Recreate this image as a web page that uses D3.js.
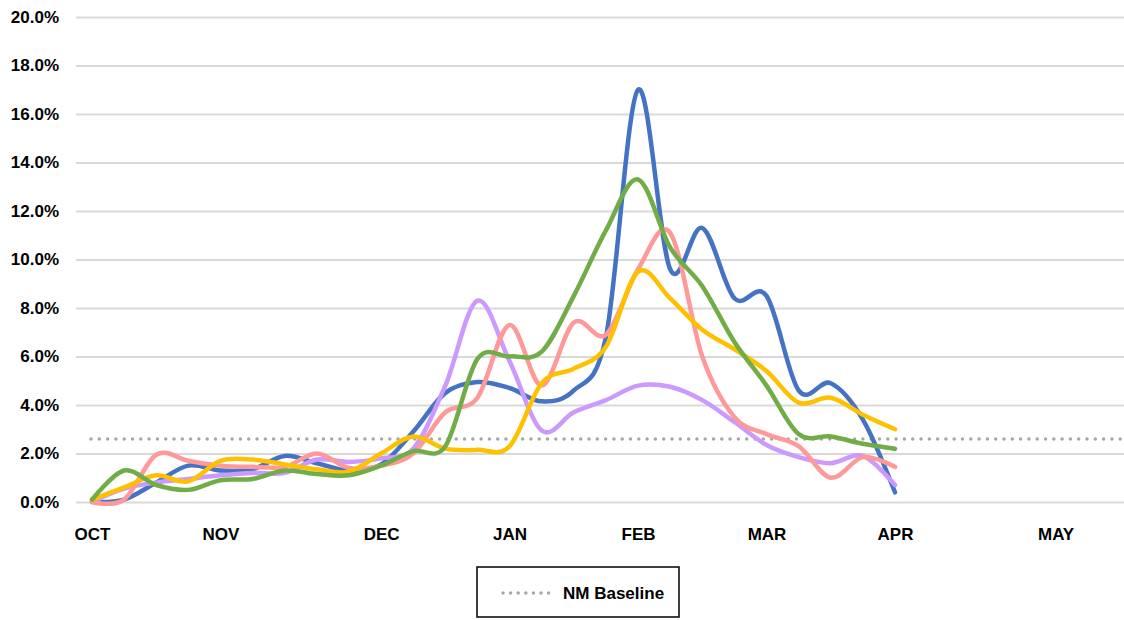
<!DOCTYPE html>
<html>
<head>
<meta charset="utf-8">
<script src="https://cdn.jsdelivr.net/npm/d3@7"></script>
<style>
  body { margin: 0; background: #fff; }
  #svg-1 { display: block; }
  .axis text { font-family: "Liberation Sans Narrow", "Arial Narrow", "Liberation Sans", sans-serif; font-weight: bold; font-size: 17px; fill: #000; }
  .grid line { stroke: #d9d9d9; stroke-width: 2; }
  .series { fill: none; stroke-width: 4.5; stroke-linecap: round; stroke-linejoin: round; }
</style>
</head>
<body>
<svg id="svg-1" width="1124" height="620"></svg>
<script>
// weekly percentages, week 0 = first week of OCT
const monthLabels = ["OCT", "NOV", "DEC", "JAN", "FEB", "MAR", "APR", "MAY"];
const monthWeeks = [0, 4, 9, 13, 17, 21, 25, 30];

const blueValues   = [0.0, 0.1, 0.8, 1.5, 1.3, 1.35, 1.9, 1.6, 1.3, 1.55, 2.9, 4.5, 4.95, 4.7, 4.15, 4.6, 6.8, 17.0, 9.6, 11.3, 8.4, 8.5, 4.6, 4.9, 3.4, 0.4];
const purpleValues = [0.0, 0.55, 0.8, 0.95, 1.1, 1.2, 1.2, 1.75, 1.65, 1.8, 2.2, 4.8, 8.3, 5.8, 2.95, 3.7, 4.2, 4.8, 4.75, 4.2, 3.3, 2.35, 1.85, 1.6, 1.9, 0.7];
const pinkValues   = [0.0, 0.1, 1.95, 1.7, 1.5, 1.45, 1.45, 2.0, 1.4, 1.5, 2.0, 3.7, 4.3, 7.3, 4.8, 7.4, 6.9, 9.6, 11.1, 6.0, 3.5, 2.8, 2.3, 1.0, 1.85, 1.45];
const yellowValues = [0.1, 0.6, 1.1, 0.85, 1.7, 1.75, 1.55, 1.35, 1.25, 2.0, 2.7, 2.2, 2.15, 2.3, 4.9, 5.5, 6.4, 9.5, 8.4, 7.1, 6.3, 5.4, 4.1, 4.3, 3.6, 3.0];
const greenValues  = [0.1, 1.3, 0.7, 0.5, 0.9, 0.95, 1.3, 1.15, 1.1, 1.5, 2.1, 2.3, 5.9, 6.0, 6.2, 8.5, 11.2, 13.3, 10.5, 8.9, 6.6, 4.8, 2.8, 2.7, 2.4, 2.2];
const baselineValue = 2.6;
const legendLabel = "NM Baseline";

const series = [
  { name: "blue",   color: "#4472c4", values: blueValues },
  { name: "purple", color: "#cc99ff", values: purpleValues },
  { name: "pink",   color: "#ff9999", values: pinkValues },
  { name: "yellow", color: "#ffc000", values: yellowValues },
  { name: "green",  color: "#70ad47", values: greenValues }
];

const chartModule = (function() {
  function draw() {
    const svg = d3.select("#svg-1");
    const plotLeft = 76, plotRight = 1124;

    const x = d3.scaleLinear().domain([0, 25]).range([92, 895]);
    const y = d3.scaleLinear().domain([0, 20]).range([502, 17]);

    // y axis + gridlines
    svg.append("g")
      .attr("class", "axis grid")
      .attr("transform", "translate(" + plotLeft + ",0)")
      .call(d3.axisLeft(y)
        .tickValues(d3.range(0, 21, 2))
        .tickSize(-(plotRight - plotLeft))
        .tickPadding(17)
        .tickFormat(d => d.toFixed(1) + "%"))
      .call(g => g.select(".domain").remove());

    // x axis (month labels)
    svg.append("g")
      .attr("class", "axis")
      .attr("transform", "translate(0," + y(0) + ")")
      .call(d3.axisBottom(x)
        .tickValues(monthWeeks)
        .tickSize(0)
        .tickPadding(26)
        .tickFormat((d, i) => monthLabels[i]))
      .call(g => g.select(".domain").remove());

    // baseline
    svg.append("line")
      .attr("x1", x(0) - 1)
      .attr("x2", plotRight)
      .attr("y1", y(baselineValue))
      .attr("y2", y(baselineValue))
      .attr("stroke", "#a6a6a6")
      .attr("stroke-width", 3.5)
      .attr("stroke-linecap", "round")
      .attr("stroke-dasharray", "0,8.3");

    const line = d3.line()
      .x((d, i) => x(i))
      .y(d => y(d))
      .curve(d3.curveCardinal.tension(0));

    svg.selectAll(".series")
      .data(series)
      .enter()
      .append("path")
      .attr("class", "series")
      .attr("stroke", d => d.color)
      .attr("d", d => line(d.values));

    // legend
    const legend = svg.append("g").attr("transform", "translate(477,567)");
    legend.append("rect")
      .attr("width", 202)
      .attr("height", 50)
      .attr("fill", "#fff")
      .attr("stroke", "#000")
      .attr("stroke-width", 1.5);
    legend.append("line")
      .attr("x1", 26).attr("x2", 72)
      .attr("y1", 26).attr("y2", 26)
      .attr("stroke", "#a6a6a6")
      .attr("stroke-width", 3.5)
      .attr("stroke-linecap", "round")
      .attr("stroke-dasharray", "0,7.6");
    legend.append("text")
      .attr("x", 86)
      .attr("y", 26)
      .attr("dy", "0.35em")
      .style("font-family", "'Liberation Sans Narrow', 'Arial Narrow', 'Liberation Sans', sans-serif")
      .style("font-weight", "bold")
      .style("font-size", "17px")
      .text(legendLabel);
  }
  return { draw };
})();

chartModule.draw();
</script>
</body>
</html>
